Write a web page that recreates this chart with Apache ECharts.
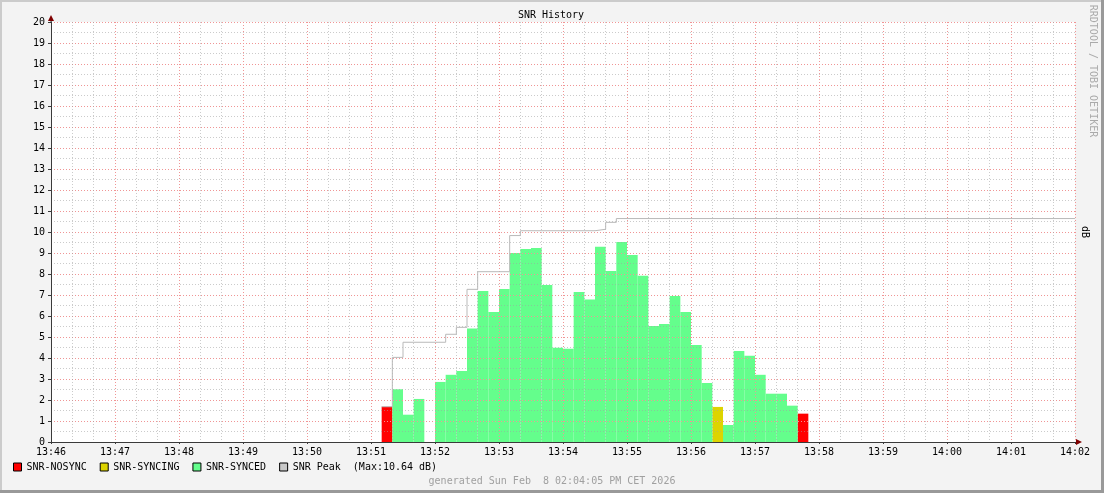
<!DOCTYPE html>
<html>
<head>
<meta charset="utf-8">
<script src="https://cdn.jsdelivr.net/npm/echarts@6/dist/echarts.min.js"></script>
<style>
html,body{margin:0;padding:0;background:#f3f3f3;}
#chart{width:1104px;height:493px;}
</style>
</head>
<body>
<div id="chart"></div>
<script>
// ---- data ----
const axisStart = '13:46:00';
const axisEnd = '14:02:00';
const stepSeconds = 10; // resolution of one bar

const barTimes = ['13:51:10','13:51:20','13:51:30','13:51:40','13:52:00','13:52:10','13:52:20','13:52:30','13:52:40','13:52:50',
  '13:53:00','13:53:10','13:53:20','13:53:30','13:53:40','13:53:50','13:54:00','13:54:10','13:54:20','13:54:30',
  '13:54:40','13:54:50','13:55:00','13:55:10','13:55:20','13:55:30','13:55:40','13:55:50','13:56:00','13:56:10',
  '13:56:20','13:56:30','13:56:40','13:56:50','13:57:00','13:57:10','13:57:20','13:57:30','13:57:40'];
const snrValues = [1.68,2.51,1.30,2.05,2.86,3.20,3.38,5.40,7.19,6.19,
  7.29,9.00,9.19,9.24,7.48,4.49,4.44,7.14,6.78,9.30,
  8.14,9.52,8.90,7.92,5.52,5.62,6.95,6.19,4.62,2.81,
  1.67,0.81,4.33,4.11,3.20,2.30,2.30,1.73,1.35];
const snrStates = ['NOSYNC','SYNCED','SYNCED','SYNCED','SYNCED','SYNCED','SYNCED','SYNCED','SYNCED','SYNCED',
  'SYNCED','SYNCED','SYNCED','SYNCED','SYNCED','SYNCED','SYNCED','SYNCED','SYNCED','SYNCED',
  'SYNCED','SYNCED','SYNCED','SYNCED','SYNCED','SYNCED','SYNCED','SYNCED','SYNCED','SYNCED',
  'SYNCING','SYNCED','SYNCED','SYNCED','SYNCED','SYNCED','SYNCED','SYNCED','NOSYNC'];

const peakTimes = ['13:51:10','13:51:20','13:51:30','13:52:10','13:52:20','13:52:30','13:52:40','13:53:10','13:53:20','13:54:30','13:54:40','13:54:50','14:02:00'];
const peakValues = [1.68,4.03,4.75,5.13,5.46,7.27,8.11,9.83,10.06,10.13,10.46,10.64,10.64];

const yTicks = [0,20,1];
const titleText = 'SNR History';
const footerText = 'generated Sun Feb  8 02:04:05 PM CET 2026';
const sideText = 'RRDTOOL / TOBI OETIKER';
const unitText = 'dB';

// ---- helpers ----
function toSec(s){ const p = s.split(':').map(Number); return p[0]*3600 + p[1]*60 + (p[2]||0); }
const base = toSec(axisStart);
const rel = s => toSec(s) - base;
const pad = n => (n < 10 ? '0' : '') + n;

const FONT = 'DejaVu Sans Mono';
const stateColors = {NOSYNC:'#ff0000', SYNCING:'#ddd400', SYNCED:'#64fe8c'};
const stateNames = {NOSYNC:'SNR-NOSYNC', SYNCING:'SNR-SYNCING', SYNCED:'SNR-SYNCED'};

function barData(state){
  const out = [];
  barTimes.forEach((t,i) => { if (snrStates[i] === state) out.push([rel(t), snrValues[i]]); });
  return out;
}
function renderBar(params, api){
  const start = api.value(0), v = api.value(1);
  const p1 = api.coord([start, v]);
  const p2 = api.coord([start + stepSeconds, 0]);
  return {type:'rect', shape:{x:p1[0], y:p1[1], width:p2[0]-p1[0], height:p2[1]-p1[1]},
          style:{fill: api.visual('color')}};
}
const maxPeak = Math.max(...peakValues);

const L = 51, T = 22, R = 1075, B = 442;
const MAJOR = {color:'#f09595', type:[1,2], width:1};
const MINOR = {color:'rgba(160,160,160,0.55)', type:[1,2], width:1};

const chart = echarts.init(document.getElementById('chart'), null, {renderer:'canvas'});
const barSeries = ['NOSYNC','SYNCING','SYNCED'].map(s => ({
  name: stateNames[s], type:'custom', renderItem: renderBar, z: 1,
  itemStyle:{color: stateColors[s]}, encode:{x:0, y:1}, data: barData(s)
}));

chart.setOption({
  animation:false,
  backgroundColor:'#f3f3f3',
  textStyle:{fontFamily:FONT},
  grid:{left:L, top:T, right:1104-R, bottom:493-B, show:true, backgroundColor:'#ffffff', borderWidth:0, z:0},
  xAxis:{
    type:'value', min:rel(axisStart), max:rel(axisEnd), interval:60, z:3,
    axisLine:{show:true, lineStyle:{color:'#3a3a3a', width:1}},
    axisTick:{show:true, length:2, lineStyle:{color:'#3a3a3a'}},
    axisLabel:{fontFamily:FONT, fontSize:10, color:'#000', margin:5,
      formatter: v => { const t = base + v; return pad(Math.floor(t/3600)) + ':' + pad(Math.floor((t%3600)/60)); }},
    splitLine:{show:true, lineStyle:MAJOR},
    minorTick:{show:false, splitNumber:3},
    minorSplitLine:{show:true, lineStyle:MINOR}
  },
  yAxis:{
    type:'value', min:yTicks[0], max:yTicks[1], interval:yTicks[2], z:3,
    axisLine:{show:true, lineStyle:{color:'#3a3a3a', width:1}},
    axisTick:{show:true, length:3, lineStyle:{color:'#3a3a3a'}},
    axisLabel:{fontFamily:FONT, fontSize:10, color:'#000', margin:6},
    splitLine:{show:true, lineStyle:MAJOR},
    minorTick:{show:false, splitNumber:2},
    minorSplitLine:{show:true, lineStyle:MINOR}
  },
  legend:{
    left:13, top:462, padding:0, itemWidth:8, itemHeight:8, itemGap:13, icon:'rect',
    textStyle:{fontFamily:FONT, fontSize:10, color:'#000'},
    formatter: n => n === 'SNR Peak' ? n + '  (Max:' + maxPeak.toFixed(2) + ' dB)' : n,
    data:[
      {name:'SNR-NOSYNC', itemStyle:{color:stateColors.NOSYNC, borderColor:'#000', borderWidth:1}},
      {name:'SNR-SYNCING', itemStyle:{color:stateColors.SYNCING, borderColor:'#000', borderWidth:1}},
      {name:'SNR-SYNCED', itemStyle:{color:stateColors.SYNCED, borderColor:'#000', borderWidth:1}},
      {name:'SNR Peak', icon:'rect', itemStyle:{color:'#c8c8c8', borderColor:'#000', borderWidth:1}}
    ],
    selectedMode:false
  },
  series: barSeries.concat([{
    name:'SNR Peak', type:'line', step:'end', symbol:'none', z:5,
    lineStyle:{color:'#b9b9b9', width:1}, itemStyle:{color:'#c8c8c8'},
    data: peakTimes.map((t,i) => [rel(t), peakValues[i]])
  }]),
  graphic:[
    {type:'text', x:551, y:15, style:{text:titleText, font:'10px "'+FONT+'"', fill:'#000', align:'center', verticalAlign:'middle'}},
    {type:'text', x:1093, y:71, rotation:-Math.PI/2, style:{text:sideText, font:'10px "'+FONT+'"', fill:'#aaaaaa', align:'center', verticalAlign:'middle'}},
    {type:'text', x:1085, y:(T+B)/2, rotation:-Math.PI/2, style:{text:unitText, font:'10px "'+FONT+'"', fill:'#000', align:'center', verticalAlign:'middle'}},
    {type:'text', x:552, y:481, style:{text:footerText, font:'10px "'+FONT+'"', fill:'#a0a0a0', align:'center', verticalAlign:'middle'}},
    {type:'polygon', shape:{points:[[L,15],[L-3,21],[L+3,21]]}, style:{fill:'#7f0000'}, z:10},
    {type:'polygon', shape:{points:[[1082,B],[1076,B-3],[1076,B+3]]}, style:{fill:'#7f0000'}, z:10},
    {type:'line', shape:{x1:L, y1:T, x2:L, y2:19}, style:{stroke:'#3a3a3a', lineWidth:1}, z:9},
    {type:'line', shape:{x1:R, y1:B+0.5, x2:1078, y2:B+0.5}, style:{stroke:'#3a3a3a', lineWidth:1}, z:9},
    {type:'rect', shape:{x:0, y:0, width:1104, height:2}, style:{fill:'#cbcbcb'}, z:10},
    {type:'rect', shape:{x:0, y:0, width:2, height:493}, style:{fill:'#cbcbcb'}, z:10},
    {type:'rect', shape:{x:0, y:490, width:1104, height:3}, style:{fill:'#999999'}, z:10},
    {type:'rect', shape:{x:1101, y:0, width:3, height:493}, style:{fill:'#999999'}, z:10}
  ]
});
</script>
</body>
</html>
